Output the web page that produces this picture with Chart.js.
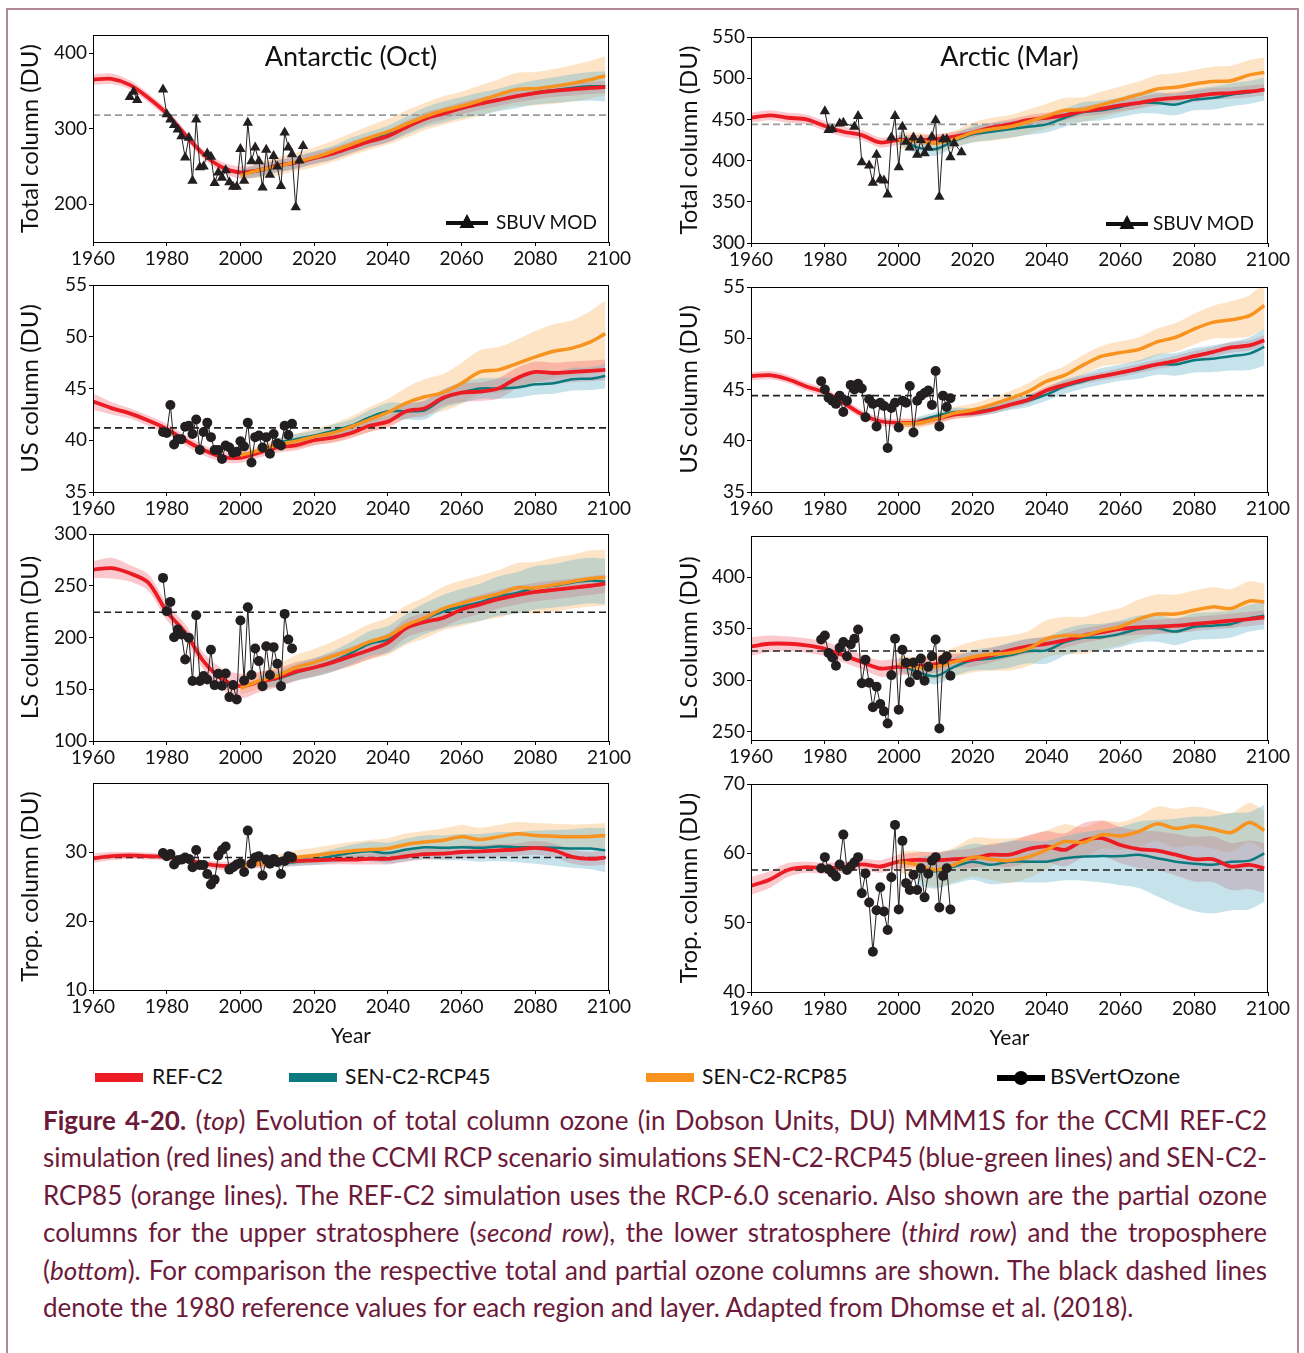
<!DOCTYPE html>
<html>
<head>
<meta charset="utf-8">
<script src="https://cdn.jsdelivr.net/npm/chart.js@4.4.1/dist/chart.umd.min.js"></script>
<style>
  body { margin: 0; background: #fff; font-family: Lato, "Open Sans", sans-serif; }
  #page { position: relative; width: 1304px; height: 1353px; overflow: hidden; }
  #frame { position: absolute; left: 6px; top: 8px; width: 1289px; height: 1360px;
           border: 2px solid #b3899a; border-bottom: none; }
  canvas { position: absolute; }
  .ptitle { position: absolute; text-align: center; font-size: 27px; line-height: 32px; color: #111; }
  .obsleg { position: absolute; font-size: 19px; line-height: 20px; color: #111; white-space: nowrap; }
  .obsleg svg { position: absolute; left: 0; top: 1px; }
  .obsleg span { position: absolute; top: 0; }
  .leg { position: absolute; top: 1064px; font-size: 21px; line-height: 24px; color: #111; white-space: nowrap; }
  .leg .sw { position: absolute; top: 9px; height: 9px; width: 48px; }
  .leg span { position: absolute; top: 0; }
  #caption { position: absolute; left: 43px; top: 1102px; width: 1224px; color: #6c1a3a;
             font-size: 26px; line-height: 37.4px; }
  #caption .ln { white-space: nowrap; }
</style>
</head>
<body>
<div id="page">
  <div id="frame"></div>

  <div class="ptitle" style="left:93px; width:516px; top:40px;">Antarctic (Oct)</div>
  <div class="ptitle" style="left:751px; width:517px; top:40px;">Arctic (Mar)</div>

  <div class="obsleg" style="left:446px; top:212px;">
    <svg width="42" height="18"><line x1="0" y1="10" x2="42" y2="10" stroke="#111" stroke-width="4"/><polygon points="21,1 28.5,15 13.5,15" fill="#111"/></svg>
    <span style="left:50px;">SBUV MOD</span>
  </div>
  <div class="obsleg" style="left:1106px; top:213px;">
    <svg width="42" height="18"><line x1="0" y1="10" x2="42" y2="10" stroke="#111" stroke-width="4"/><polygon points="21,1 28.5,15 13.5,15" fill="#111"/></svg>
    <span style="left:47px;">SBUV MOD</span>
  </div>

  <div class="leg" style="left:95px;"><div class="sw" style="background:#ed1c24;"></div><span style="left:57px;">REF-C2</span></div>
  <div class="leg" style="left:289px;"><div class="sw" style="background:#0b7a7e;"></div><span style="left:56px;">SEN-C2-RCP45</span></div>
  <div class="leg" style="left:646px;"><div class="sw" style="background:#f7931e;"></div><span style="left:56px;">SEN-C2-RCP85</span></div>
  <div class="leg" style="left:997px;">
    <svg width="48" height="24" style="position:absolute;left:0;top:2px;"><line x1="0" y1="12" x2="48" y2="12" stroke="#000" stroke-width="6"/><circle cx="24" cy="12" r="7" fill="#000"/></svg>
    <span style="left:53px; font-size:22px;">BSVertOzone</span>
  </div>

  <div id="caption">
    <div class="ln"><b>Figure 4-20.</b> (<i>top</i>) Evolution of total column ozone (in Dobson Units, DU) MMM1S for the CCMI REF-C2</div>
    <div class="ln">simulation (red lines) and the CCMI RCP scenario simulations SEN-C2-RCP45 (blue-green lines) and SEN-C2-</div>
    <div class="ln">RCP85 (orange lines). The REF-C2 simulation uses the RCP-6.0 scenario. Also shown are the partial ozone</div>
    <div class="ln">columns for the upper stratosphere (<i>second row</i>), the lower stratosphere (<i>third row</i>) and the troposphere</div>
    <div class="ln">(<i>bottom</i>). For comparison the respective total and partial ozone columns are shown. The black dashed lines</div>
    <div class="ln last">denote the 1980 reference values for each region and layer. Adapted from Dhomse et al. (2018).</div>
  </div>
</div>

<script>
// ===== data =====
const years = [1960,1965,1970,1975,1980,1985,1990,1995,2000,2005,2010,2015,2020,2025,2030,2035,2040,2045,2050,2055,2060,2065,2070,2075,2080,2085,2090,2095,2099];
const xTicks = [1960,1980,2000,2020,2040,2060,2080,2100];
const _ = null;

// Antarctic total column (Oct)
const antTotTicks = [200,300,400];
const antTotRef = [365,366,358,341,320,292,266,249,242,245,251,255,261,267,275,283,290,302,313,320,327,333,338,343,347,350,352,354,355];
const antTotRefSd = [7,7,6,6,6,6,6,7,8,8,8,8,8,8,8,8,8,8,8,8,8,8,8,8,8,8,8,8,8];
const antTot45 = [_,_,_,_,_,_,_,_,240,244,250,255,262,268,278,286,293,304,315,322,328,333,338,343,348,351,354,356,356];
const antTot45Sd = [_,_,_,_,_,_,_,_,6,8,8,8,8,9,10,10,11,12,13,14,14,15,15,16,16,17,18,19,20];
const antTot85 = [_,_,_,_,_,_,_,_,238,245,250,256,262,270,279,288,296,306,316,324,330,337,345,352,353,356,360,365,370];
const antTot85Sd = [_,_,_,_,_,_,_,_,6,10,12,12,13,14,15,16,17,18,18,19,19,20,20,22,22,23,24,25,26];
const antTotObsYears = [1970,1971,1972,1975,1979,1980,1981,1982,1983,1984,1985,1986,1987,1988,1989,1990,1991,1992,1993,1994,1995,1996,1997,1998,1999,2000,2001,2002,2003,2004,2005,2006,2007,2008,2009,2010,2011,2012,2013,2014,2015,2016,2017];
const antTotObs = [342,349,338,_,352,319,312,305,299,290,262,288,231,312,249,250,267,263,228,242,235,245,229,223,223,273,231,308,257,275,257,222,272,239,264,250,224,295,275,266,196,258,277];

// Arctic total column (Mar)
const arcTotTicks = [300,350,400,450,500,550];
const arcTotRef = [452,455,452,450,442,435,431,422,425,425,426,429,434,440,444,449,452,455,460,463,467,470,474,476,478,481,482,484,486];
const arcTotRefSd = [6,6,6,6,6,6,6,6,6,6,6,6,6,6,6,6,6,6,6,7,7,7,7,7,7,7,7,7,7];
const arcTot45 = [_,_,_,_,_,_,_,_,428,416,414,424,432,435,438,441,444,452,459,461,465,470,470,468,474,476,480,483,487];
const arcTot45Sd = [_,_,_,_,_,_,_,_,8,8,8,8,10,10,10,10,10,11,12,12,12,13,13,13,13,14,14,14,14];
const arcTot85 = [_,_,_,_,_,_,_,_,424,424,421,426,434,438,441,447,454,461,462,468,474,480,487,489,493,496,497,504,507];
const arcTot85Sd = [_,_,_,_,_,_,_,_,10,10,10,10,12,14,14,15,15,15,15,16,16,16,17,17,17,18,18,18,18];
const arcTotObsYears = [1980,1981,1982,1984,1985,1988,1989,1990,1992,1993,1994,1995,1996,1997,1998,1999,2000,2001,2002,2003,2004,2005,2006,2007,2008,2009,2010,2011,2012,2013,2014,2015,2017];
const arcTotObs = [460,437,438,445,446,441,454,398,394,373,407,377,376,359,428,454,392,441,423,416,428,407,425,409,416,429,449,356,426,426,404,421,410];

// Antarctic upper stratosphere
const usTicks = [35,40,45,50,55];
const antUSRef = [43.75,43.1,42.6,41.9,41.1,40.0,39.05,38.4,38.3,38.8,39.3,39.5,40.0,40.25,40.7,41.4,41.8,42.8,43.1,44.1,44.6,44.7,45.0,46.0,46.6,46.5,46.6,46.7,46.8];
const antUSRefSd = [0.8,0.6,0.5,0.5,0.5,0.5,0.5,0.5,0.5,0.5,0.5,0.5,0.5,0.5,0.5,0.6,0.6,0.7,0.8,0.8,0.9,0.9,1.0,1.0,1.0,1.0,1.0,1.0,1.0];
const antUS45 = [_,_,_,_,_,_,_,_,_,_,39.8,40.1,40.45,40.9,41.4,42.2,42.8,42.8,42.9,44.0,44.6,45.0,45.0,45.1,45.4,45.5,45.9,45.95,46.2];
const antUS45Sd = [_,_,_,_,_,_,_,_,_,_,0.4,0.5,0.5,0.6,0.6,0.7,0.8,0.8,0.9,0.9,1.0,1.0,1.0,1.0,1.0,1.0,1.1,1.1,1.2];
const antUS85 = [_,_,_,_,_,_,_,_,38.55,39.0,39.55,39.9,40.35,40.7,41.3,42.0,42.7,43.6,44.2,44.6,45.5,46.6,46.8,47.4,48.05,48.6,48.9,49.5,50.3];
const antUS85Sd = [_,_,_,_,_,_,_,_,0.4,0.5,0.6,0.7,0.8,0.9,1.0,1.2,1.3,1.5,1.7,1.8,2.0,2.1,2.2,2.3,2.5,2.6,2.7,3.0,3.2];
const antUSObsYears = [1979,1980,1981,1982,1983,1984,1985,1986,1987,1988,1989,1990,1991,1992,1993,1994,1995,1996,1997,1998,1999,2000,2001,2002,2003,2004,2005,2006,2007,2008,2009,2010,2011,2012,2013,2014];
const antUSObs = [40.8,40.7,43.4,39.6,40.1,40.1,41.3,41.4,40.6,42.0,39.05,40.8,41.7,40.3,39.05,39.05,38.2,39.5,39.3,38.8,38.9,39.9,39.4,41.7,37.85,40.3,40.45,39.3,40.3,38.7,40.6,39.7,39.5,41.4,40.5,41.6];

// Arctic upper stratosphere
const arcUSRef = [46.3,46.4,46.0,45.3,44.7,43.7,42.6,41.9,41.75,41.8,42.1,42.55,42.7,43.0,43.5,44.0,44.9,45.45,45.95,46.3,46.65,47.05,47.45,47.8,48.25,48.65,49.1,49.3,49.8];
const arcUSRefSd = [0.4,0.4,0.4,0.4,0.4,0.4,0.4,0.4,0.4,0.4,0.4,0.4,0.4,0.4,0.4,0.4,0.4,0.4,0.4,0.4,0.45,0.45,0.45,0.5,0.5,0.5,0.5,0.5,0.5];
const arcUS45 = [_,_,_,_,_,_,_,_,_,41.9,42.4,42.8,42.8,43.1,43.5,43.9,44.5,45.3,45.8,46.3,46.65,46.95,47.45,47.45,47.85,48.0,48.25,48.5,49.15];
const arcUS45Sd = [_,_,_,_,_,_,_,_,_,0.4,0.4,0.4,0.4,0.5,0.5,0.6,0.6,0.7,0.7,0.8,0.8,0.9,1.0,1.1,1.2,1.3,1.4,1.6,1.8];
const arcUS85 = [_,_,_,_,_,_,_,_,41.7,41.7,42.1,42.7,43.0,43.5,44.1,44.8,45.8,46.4,47.4,48.25,48.6,48.9,49.65,50.1,50.9,51.55,51.8,52.2,53.2];
const arcUS85Sd = [_,_,_,_,_,_,_,_,0.5,0.5,0.5,0.6,0.6,0.7,0.7,0.8,0.8,0.9,1.0,1.0,1.1,1.2,1.3,1.4,1.5,1.6,1.8,2.0,2.3];
const arcUSObsYears = antUSObsYears;
const arcUSObs = [45.8,45.0,44.2,43.9,43.6,44.4,42.8,43.9,45.45,45.0,45.55,45.1,42.3,44.05,43.6,41.4,43.7,43.4,39.3,43.2,43.7,41.3,43.9,43.7,45.35,40.8,43.9,44.4,44.65,44.9,43.5,46.8,41.4,44.4,43.3,44.15];

// Antarctic lower stratosphere
const antLSTicks = [100,150,200,250,300];
const antLSRef = [265.6,267,262,253,225,205,177,160,153,157,161,167,171,176,182,188,195,209,215,219,227,232,237,241,244,246,248,250,252];
const antLSRefSd = [8,10,8,8,8,8,8,10,12,10,9,9,9,9,9,9,9,9,9,9,9,9,9,9,9,9,9,9,9];
const antLS45 = [_,_,_,_,_,_,_,_,_,157,160,166,171,177,185,194,198,209,218,225,230,234,240,243,248,250,253,255,254];
const antLS45Sd = [_,_,_,_,_,_,_,_,_,6,7,8,9,10,11,12,13,14,15,16,17,18,19,20,21,21,22,22,22];
const antLS85 = [_,_,_,_,_,_,_,_,151,158,163,171,176,182,188,196,201,212,219,228,233,238,242,248,248,251,254,257,258];
const antLS85Sd = [_,_,_,_,_,_,_,_,6,8,10,12,13,14,16,17,18,19,20,21,22,22,23,24,25,26,26,27,27];
const antLSObsYears = antUSObsYears;
const antLSObs = [257.6,225.4,234.4,200.3,207.7,202.9,178.8,199.7,157.9,221.5,157.9,162.7,159.5,188.1,154.0,164.9,153.4,165.3,142.4,154.0,140.2,216.4,158.5,229.3,163.7,189.4,177.2,153.0,191.6,163.7,190.7,174.6,153.0,222.8,198.1,189.4];

// Arctic lower stratosphere
const arcLSTicks = [250,300,350,400];
const arcLSRef = [332.8,335.4,335.4,333.8,330.6,324.2,317.8,311.4,313,313.7,315.6,318.8,320,324.2,329,332.8,335.4,338.6,343.4,346.6,349.8,351.4,352,353,354.6,356.2,357.8,359.4,361];
const arcLSRefSd = [9,8,7,7,7,7,7,8,8,8,8,7,7,7,7,7,7,7,7,7,7,7,7,7,7,7,7,7,7];
const arcLS45 = [_,_,_,_,_,_,_,_,316,308,304,313,319.4,321,324.2,328.4,329,337,341.2,341.8,345,349.8,350.4,347.2,352,353,354.6,360.3,362.6];
const arcLS45Sd = [_,_,_,_,_,_,_,_,6,7,8,9,10,11,12,12,13,13,13,13,13,13,13,13,13,13,13,13,13];
const arcLS85 = [_,_,_,_,_,_,_,_,316,312.4,313,317.8,322.6,325.2,326.4,330.6,340.2,343.4,343.4,348.2,352,359.4,364.2,364.2,368,371.2,369.6,377,376];
const arcLS85Sd = [_,_,_,_,_,_,_,_,8,10,12,14,15,16,17,17,18,18,18,18,18,19,19,19,19,19,19,19,18];
const arcLSObsYears = antUSObsYears;
const arcLSObs = [339.6,343.4,326.4,322,314,331.6,337,323.3,334.8,340.2,349.2,297,320,297.6,273.7,293.8,276.9,269.8,258,305,340.2,271.4,329.6,316.9,298,317.2,305,321,299.6,313,323.3,339.6,253.2,320,323.3,304.4];

// Antarctic troposphere
const antTropTicks = [10,20,30];
const antTropRef = [29.1,29.4,29.5,29.4,29.3,28.9,28.3,28.0,28.1,28.3,28.55,28.7,28.8,28.9,28.9,29.0,29.0,29.4,29.7,29.75,30.0,30.1,30.25,30.35,30.6,30.25,29.3,29.0,29.2];
const antTropRefSd = [0.7,0.6,0.5,0.5,0.5,0.5,0.5,0.6,0.6,0.6,0.7,0.7,0.7,0.7,0.7,0.8,0.8,0.8,0.8,0.8,0.9,0.9,0.9,0.9,1.0,1.0,1.0,1.0,1.0];
const antTrop45 = [_,_,_,_,_,_,_,_,_,_,28.3,28.55,28.9,29.4,29.85,30.1,29.85,30.35,30.7,30.6,30.7,30.6,30.8,30.7,30.7,30.6,30.5,30.5,30.25];
const antTrop45Sd = [_,_,_,_,_,_,_,_,_,_,0.5,0.6,0.8,1.0,1.2,1.4,1.5,1.6,1.7,1.8,1.9,2.0,2.1,2.2,2.4,2.6,2.8,3.0,3.2];
const antTrop85 = [_,_,_,_,_,_,_,_,28.1,28.3,28.8,29.2,29.5,29.85,30.15,30.35,30.5,31.1,31.45,31.7,32.2,31.8,32.2,32.65,32.4,32.3,32.2,32.25,32.4];
const antTrop85Sd = [_,_,_,_,_,_,_,_,0.5,0.6,0.8,1.0,1.1,1.2,1.3,1.4,1.5,1.6,1.6,1.7,1.7,1.7,1.7,1.7,1.8,1.8,1.8,1.8,1.8];
const antTropObsYears = antUSObsYears;
const antTropObs = [29.85,29.4,29.7,28.2,28.8,28.9,29.2,29.0,27.8,30.3,28.1,28.1,26.8,25.3,26.0,29.5,30.3,30.8,27.45,27.8,28.2,28.4,27.1,33.1,28.3,29.2,29.4,26.6,28.9,28.3,29.0,28.55,26.8,28.7,29.4,29.2];

// Arctic troposphere
const arcTropTicks = [40,50,60,70];
const arcTropRef = [55.3,56.2,57.6,58.0,57.85,58.0,58.4,58.1,58.8,59.05,59.0,59.15,59.3,59.8,59.8,60.6,61.0,60.5,61.85,62.2,61.2,60.6,60.4,59.8,59.15,59.15,58.1,58.35,57.85];
const arcTropRefSd = [1.3,1.2,1.0,0.8,0.8,0.8,0.8,0.9,1.0,1.1,1.2,1.3,1.4,1.6,1.8,2.0,2.2,2.4,2.5,2.5,2.6,2.7,2.8,3.0,3.2,3.3,3.4,3.5,3.6];
const arcTrop45 = [_,_,_,_,_,_,_,_,_,57.4,57.4,58.1,58.8,58.35,58.8,58.8,58.8,59.3,59.55,59.6,59.6,59.8,59.3,58.8,58.5,58.35,58.8,58.95,60.0];
const arcTrop45Sd = [_,_,_,_,_,_,_,_,_,2.0,2.5,2.5,2.6,2.8,3.0,3.0,3.0,3.2,3.5,3.8,4.2,4.8,5.5,6.2,6.8,7.0,7.0,7.0,7.0];
const arcTrop85 = [_,_,_,_,_,_,_,_,58.8,58.35,57.6,58.35,59.45,59.15,58.95,59.45,60.5,61.7,61.55,62.7,62.5,63.15,64.25,63.6,63.95,63.5,63.0,64.45,63.3];
const arcTrop85Sd = [_,_,_,_,_,_,_,_,1.5,2.0,2.5,2.5,2.8,3.0,3.2,3.0,2.8,2.5,2.2,2.0,2.0,2.2,2.5,2.8,2.8,2.8,2.8,2.8,2.8];
const arcTropObsYears = antUSObsYears;
const arcTropObs = [57.85,59.45,57.7,57.2,56.65,58.4,62.7,57.6,58.1,58.7,59.45,54.25,57.1,52.9,45.8,51.8,55.1,51.6,48.95,56.55,64.1,51.9,61.8,55.7,54.7,56.9,54.7,57.85,53.65,57.05,58.95,59.45,52.2,56.75,57.85,51.9];

// 1980 reference levels (dashed lines)
const refLevels = [318, 444, 41.2, 44.4, 224.4, 328.4, 29.2, 57.6];

// ===== look =====
const FONT = 'Lato, "Open Sans", sans-serif';
const RED = '#ed1c24', TEAL = '#0b7a7e', ORANGE = '#f7931e', OBS = '#231f20';
const RED_BAND = 'rgba(236,60,75,0.28)', TEAL_BAND = 'rgba(105,180,200,0.38)', ORANGE_BAND = 'rgba(248,165,70,0.30)';

const cols = [
  { left: 8, width: 634, plotLeft: 93, plotRight: 609 },
  { left: 667, width: 633, plotLeft: 751, plotRight: 1268 }
];
const PAD_TOP = 16;

const panels = [
  { col: 0, top: 35, bottom: 242, yMin: 150, yMax: 424, ticks: antTotTicks, yTitle: 'Total column (DU)',
    red: antTotRef, redSd: antTotRefSd, teal: antTot45, tealSd: antTot45Sd, orange: antTot85, orangeSd: antTot85Sd,
    obsX: antTotObsYears, obsY: antTotObs, marker: 'triangle', refColor: '#9b9b9b' },
  { col: 1, top: 37, bottom: 243, yMin: 300, yMax: 550, ticks: arcTotTicks, yTitle: 'Total column (DU)',
    red: arcTotRef, redSd: arcTotRefSd, teal: arcTot45, tealSd: arcTot45Sd, orange: arcTot85, orangeSd: arcTot85Sd,
    obsX: arcTotObsYears, obsY: arcTotObs, marker: 'triangle', refColor: '#9b9b9b' },
  { col: 0, top: 285, bottom: 492, yMin: 35, yMax: 55, ticks: usTicks, yTitle: 'US column (DU)',
    red: antUSRef, redSd: antUSRefSd, teal: antUS45, tealSd: antUS45Sd, orange: antUS85, orangeSd: antUS85Sd,
    obsX: antUSObsYears, obsY: antUSObs, marker: 'circle', refColor: '#222' },
  { col: 1, top: 287, bottom: 492, yMin: 35, yMax: 55, ticks: usTicks, yTitle: 'US column (DU)',
    red: arcUSRef, redSd: arcUSRefSd, teal: arcUS45, tealSd: arcUS45Sd, orange: arcUS85, orangeSd: arcUS85Sd,
    obsX: arcUSObsYears, obsY: arcUSObs, marker: 'circle', refColor: '#222' },
  { col: 0, top: 534, bottom: 741, yMin: 100, yMax: 300, ticks: antLSTicks, yTitle: 'LS column (DU)',
    red: antLSRef, redSd: antLSRefSd, teal: antLS45, tealSd: antLS45Sd, orange: antLS85, orangeSd: antLS85Sd,
    obsX: antLSObsYears, obsY: antLSObs, marker: 'circle', refColor: '#222' },
  { col: 1, top: 536, bottom: 740, yMin: 242, yMax: 440, ticks: arcLSTicks, yTitle: 'LS column (DU)',
    red: arcLSRef, redSd: arcLSRefSd, teal: arcLS45, tealSd: arcLS45Sd, orange: arcLS85, orangeSd: arcLS85Sd,
    obsX: arcLSObsYears, obsY: arcLSObs, marker: 'circle', refColor: '#222' },
  { col: 0, top: 783, bottom: 990, yMin: 10, yMax: 40, ticks: antTropTicks, yTitle: 'Trop. column (DU)',
    red: antTropRef, redSd: antTropRefSd, teal: antTrop45, tealSd: antTrop45Sd, orange: antTrop85, orangeSd: antTrop85Sd,
    obsX: antTropObsYears, obsY: antTropObs, marker: 'circle', refColor: '#222', yearTitle: true },
  { col: 1, top: 784, bottom: 992, yMin: 40, yMax: 70, ticks: arcTropTicks, yTitle: 'Trop. column (DU)',
    red: arcTropRef, redSd: arcTropRefSd, teal: arcTrop45, tealSd: arcTrop45Sd, orange: arcTrop85, orangeSd: arcTrop85Sd,
    obsX: arcTropObsYears, obsY: arcTropObs, marker: 'circle', refColor: '#222', yearTitle: true }
];

// ===== helpers =====
function xy(xs, ys) { return xs.map((x, i) => ({ x: x, y: ys[i] })); }
function band(center, sd, sign) { return center.map((v, i) => v == null ? null : v + sign * sd[i]); }

// box round the plot area (Chart.js only draws left + bottom borders)
const frameBox = {
  id: 'frameBox',
  afterDatasetsDraw(chart) {
    const a = chart.chartArea, ctx = chart.ctx;
    ctx.save();
    ctx.strokeStyle = '#000';
    ctx.lineWidth = 1;
    ctx.strokeRect(Math.round(a.left) + 0.5, Math.round(a.top) + 0.5, Math.round(a.right - a.left) - 1, Math.round(a.bottom - a.top));
    ctx.restore();
  }
};

function makePanel(p, idx) {
  const col = cols[p.col];
  const xAxisH = p.yearTitle ? 62 : 32;
  const canvas = document.createElement('canvas');
  canvas.width = col.width;
  canvas.height = PAD_TOP + (p.bottom - p.top) + xAxisH;
  canvas.style.left = col.left + 'px';
  canvas.style.top = (p.top - PAD_TOP) + 'px';
  document.getElementById('page').insertBefore(canvas, document.getElementById('frame').nextSibling);

  const series = [
    { c: p.teal, sd: p.tealSd, color: TEAL, fill: TEAL_BAND, w: 2.5, order: 3.2 },
    { c: p.red, sd: p.redSd, color: RED, fill: RED_BAND, w: 3.8, order: 3.1 },
    { c: p.orange, sd: p.orangeSd, color: ORANGE, fill: ORANGE_BAND, w: 3.5, order: 3.0 }
  ];
  const ds = [];
  series.forEach(s => {
    ds.push({ data: xy(years, band(s.c, s.sd, -1)), borderWidth: 0, pointRadius: 0, fill: false, order: 5, tension: 0.3 });
    ds.push({ data: xy(years, band(s.c, s.sd, 1)), borderWidth: 0, pointRadius: 0, fill: '-1', backgroundColor: s.fill, order: 5, tension: 0.3 });
  });
  ds.push({ data: [{ x: 1960, y: refLevels[idx] }, { x: 2100, y: refLevels[idx] }], borderColor: p.refColor,
            borderWidth: 1.6, borderDash: [7, 4], pointRadius: 0, fill: false, order: 4 });
  series.forEach(s => {
    ds.push({ data: xy(years, s.c), borderColor: s.color, borderWidth: s.w, pointRadius: 0, fill: false, order: s.order, tension: 0.3 });
  });
  ds.push({ data: xy(p.obsX, p.obsY), borderColor: OBS, borderWidth: 1, fill: false, order: 1,
            pointStyle: p.marker, pointRadius: p.marker === 'triangle' ? 6 : 5,
            pointBackgroundColor: OBS, pointBorderColor: OBS, pointBorderWidth: 0 });

  new Chart(canvas.getContext('2d'), {
    type: 'line',
    data: { datasets: ds },
    options: {
      responsive: false,
      animation: false,
      layout: { padding: { top: PAD_TOP, right: col.left + col.width - col.plotRight, left: 0, bottom: 0 } },
      plugins: { legend: { display: false }, tooltip: { enabled: false } },
      scales: {
        x: {
          type: 'linear', min: 1960, max: 2100,
          afterBuildTicks: s => { s.ticks = xTicks.map(v => ({ value: v })); },
          afterFit: s => { s.height = xAxisH; },
          grid: { drawOnChartArea: false, tickLength: 4, color: '#000' },
          border: { color: '#000', width: 1 },
          ticks: { color: '#111', font: { family: FONT, size: 19 }, padding: 1, maxRotation: 0, autoSkip: false,
                   callback: v => String(v) },
          title: { display: !!p.yearTitle, text: 'Year', color: '#111', font: { family: FONT, size: 21 },
                   padding: { top: 0, bottom: 3 } }
        },
        y: {
          min: p.yMin, max: p.yMax,
          afterBuildTicks: s => { s.ticks = p.ticks.map(v => ({ value: v })); },
          afterFit: s => { s.width = col.plotLeft - col.left; },
          grid: { drawOnChartArea: false, tickLength: 4, color: '#000' },
          border: { color: '#000', width: 1 },
          ticks: { color: '#111', font: { family: FONT, size: 19 }, padding: 2, callback: v => String(v) },
          title: { display: true, text: p.yTitle, color: '#111', font: { family: FONT, size: 24 },
                   padding: { top: 8, bottom: 0 } }
        }
      }
    },
    plugins: [frameBox]
  });
}

panels.forEach(makePanel);

// ===== caption: spread each full line to the column width =====
document.querySelectorAll('#caption .ln').forEach(ln => {
  if (ln.classList.contains('last')) return;
  ln.style.display = 'inline-block';
  const natural = ln.getBoundingClientRect().width;
  const gaps = (ln.textContent.match(/ /g) || []).length;
  ln.style.display = 'block';
  ln.style.wordSpacing = ((1224 - natural) / gaps) + 'px';
});
</script>
</body>
</html>
